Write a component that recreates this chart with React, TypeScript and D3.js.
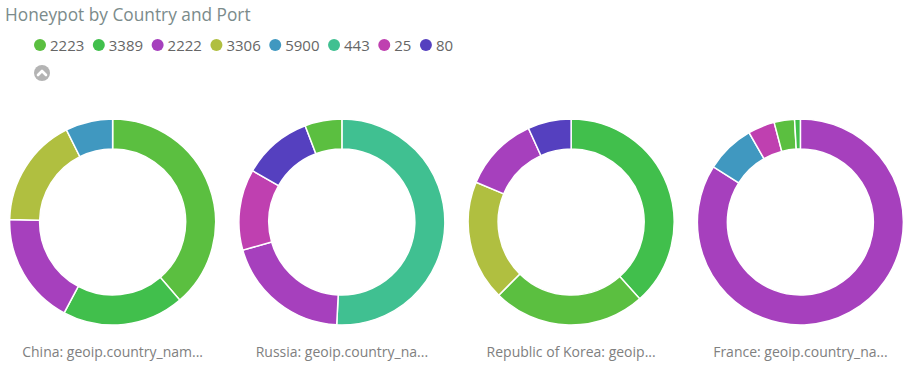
import React, { useMemo } from "react";
import * as d3 from "d3";

const TITLE = "Honeypot by Country and Port";
const ports = ["2223", "3389", "2222", "3306", "5900", "443", "25", "80"];
const portColors = ["#5bbf40", "#41bf4c", "#a640bd", "#b0bf40", "#4098c0", "#40c091", "#bf40b0", "#5540bf"];

const countries = ["China", "Russia", "Republic of Korea", "France"];
const countryLabels = [
  "China: geoip.country_nam...",
  "Russia: geoip.country_na...",
  "Republic of Korea: geoip...",
  "France: geoip.country_na...",
];

const chinaPorts = ["2223", "3389", "2222", "3306", "5900"];
const chinaValues = [387, 191, 176, 172, 74];
const russiaPorts = ["443", "2222", "25", "80", "2223"];
const russiaValues = [508, 198, 127, 109, 58];
const koreaPorts = ["3389", "2223", "3306", "2222", "80"];
const koreaValues = [384, 240, 189, 119, 68];
const francePorts = ["2222", "5900", "25", "2223", "3389"];
const franceValues = [840, 77, 42, 32, 9];

const seriesPorts = [chinaPorts, russiaPorts, koreaPorts, francePorts];
const seriesValues = [chinaValues, russiaValues, koreaValues, franceValues];

const W = 913;
const H = 377;

function measure(text: string, font: string): number {
  if (typeof document === "undefined") return text.length * 8;
  const c = document.createElement("canvas");
  const ctx = c.getContext("2d")!;
  ctx.font = font;
  return ctx.measureText(text).width;
}

export default function App() {
  const color = d3.scaleOrdinal<string, string>().domain(ports).range(portColors);
  const x = d3.scaleBand<string>().domain(countries).range([-2, 915]);
  const outer = 103;
  const inner = 73;
  const cy = 222;
  const arc = d3.arc<d3.PieArcDatum<number>>().innerRadius(inner).outerRadius(outer);
  const pie = d3.pie<number>().sort(null).value((d) => d);

  const legendFont = "15px 'Open Sans'";
  const legendItems = useMemo(() => {
    let cx = 40;
    return ports.map((p) => {
      const item = { p, cx };
      cx += 11 + measure(p, legendFont) + 13.5;
      return item;
    });
  }, []);

  return (
    <svg width={W} height={H} style={{ position: "absolute", left: 0, top: 0, background: "#fff" }}>
      <text x={5} y={21} fontFamily="'Open Sans'" fontSize={17.3} fill="#7b8b8b">
        {TITLE}
      </text>
      <g>
        {legendItems.map((it) => (
          <g key={it.p}>
            <circle cx={it.cx} cy={45} r={6} fill={color(it.p)} />
            <text x={it.cx + 10} y={50.5} fontFamily="'Open Sans'" fontSize={15} fill="#666">
              {it.p}
            </text>
          </g>
        ))}
      </g>
      <g transform="translate(42,73)">
        <circle r={8} fill="#b4b4b4" />
        <path d="M-4,2 L0,-2 L4,2" stroke="#fff" strokeWidth={2.6} fill="none" strokeLinecap="round" strokeLinejoin="round" />
      </g>
      {countries.map((c, i) => {
        const cx = (x(c) ?? 0) + x.bandwidth() / 2;
        const arcs = pie(seriesValues[i]);
        return (
          <g key={c}>
            <g transform={`translate(${cx},${cy})`}>
              {arcs.map((a, j) => (
                <path key={j} d={arc(a) ?? ""} fill={color(seriesPorts[i][j])} stroke="#fff" strokeWidth={1.5} />
              ))}
            </g>
            <text x={cx} y={357} textAnchor="middle" fontFamily="'Open Sans'" fontSize={14} fill="#808080">
              {countryLabels[i]}
            </text>
          </g>
        );
      })}
    </svg>
  );
}
